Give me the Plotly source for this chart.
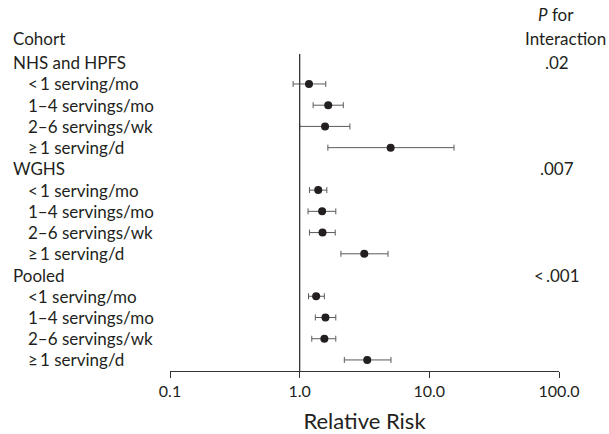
import plotly.graph_objects as go

# ---- data ----
row_labels = ["Cohort", "NHS and HPFS", "<\u20091 serving/mo", "1\u20134 servings/mo", "2\u20136 servings/wk", "\u2265\u20091 serving/d",
              "WGHS", "<\u20091 serving/mo", "1\u20134 servings/mo", "2\u20136 servings/wk", "\u2265\u20091 serving/d",
              "Pooled", "<1 serving/mo", "1\u20134 servings/mo", "2\u20136 servings/wk", "\u2265\u20091 serving/d"]
row_is_header = [True, True, False, False, False, False, True, False, False, False, False, True, False, False, False, False]

rr_rows = [2, 3, 4, 5, 7, 8, 9, 10, 12, 13, 14, 15]
rr = [1.18, 1.66, 1.57, 5.03, 1.39, 1.49, 1.50, 3.15, 1.34, 1.58, 1.55, 3.32]
ci_low = [0.89, 1.27, 1.00, 1.65, 1.19, 1.16, 1.19, 2.08, 1.17, 1.32, 1.24, 2.21]
ci_high = [1.59, 2.17, 2.44, 15.5, 1.62, 1.90, 1.88, 4.80, 1.55, 1.90, 1.90, 5.06]

p_rows = [1, 6, 11]
p_values = [".02", ".007", "<\u2009.001"]

tick_vals = [0.1, 1, 10, 100]
tick_text = ["0.1", "1.0", "10.0", "100.0"]

# ---- layout geometry ----
W, H = 609, 434
L, R, T, B = 170, 50, 0, 63
plot_w = W - L - R
row0_px = 41.5
row_step = 21.23
y_bottom = (H - B - row0_px) / row_step
y_top = (0 - row0_px) / row_step

def px_to_paper_x(px):
    return (px - L) / plot_w

FONT = "Lato, 'Open Sans', sans-serif"
TXT = "#231f20"
FS = 17

fig = go.Figure()
fig.add_trace(go.Scatter(
    x=rr, y=rr_rows, mode="markers",
    marker=dict(size=8, color=TXT),
    error_x=dict(type="data", symmetric=False,
                 array=[h - p for h, p in zip(ci_high, rr)],
                 arrayminus=[p - l for l, p in zip(ci_low, rr)],
                 color="#5a5a5a", thickness=1, width=3),
    showlegend=False, hoverinfo="skip"))

# reference line at RR = 1
fig.add_shape(type="line", xref="x", yref="y", x0=1, x1=1, y0=0.59, y1=y_bottom,
              line=dict(color="#333333", width=1.3))

ann = []
for i, (lab, hdr) in enumerate(zip(row_labels, row_is_header)):
    ann.append(dict(x=px_to_paper_x(11 if hdr else 26), y=i - (0.12 if i == 0 else 0), xref="paper", yref="y",
                    text=lab, showarrow=False, xanchor="left", yanchor="middle",
                    font=dict(family=FONT, size=FS, color=TXT)))
for r, pv in zip(p_rows, p_values):
    ann.append(dict(x=px_to_paper_x(557), y=r, xref="paper", yref="y", text=pv, showarrow=False,
                    xanchor="center", yanchor="middle", font=dict(family=FONT, size=FS, color=TXT)))
ann.append(dict(x=px_to_paper_x(556), y=-1.25, xref="paper", yref="y", text="<i>P</i> for", showarrow=False,
                xanchor="center", yanchor="middle", font=dict(family=FONT, size=FS, color=TXT)))
ann.append(dict(x=px_to_paper_x(565), y=-0.12, xref="paper", yref="y", text="Interaction", showarrow=False,
                xanchor="center", yanchor="middle", font=dict(family=FONT, size=FS, color=TXT)))

fig.update_layout(
    width=W, height=H, margin=dict(l=L, r=R, t=T, b=B),
    paper_bgcolor="white", plot_bgcolor="white",
    annotations=ann,
    xaxis=dict(type="log", range=[-1, 2], tickvals=tick_vals, ticktext=tick_text,
               showgrid=False, zeroline=False, showline=True, linecolor="#333333", linewidth=1.3,
               ticks="outside", ticklen=6, tickcolor="#333333", tickwidth=1.3,
               tickfont=dict(family=FONT, size=16, color=TXT),
               title=dict(text="Relative Risk", font=dict(family=FONT, size=22, color=TXT), standoff=16)),
    yaxis=dict(range=[y_bottom, y_top], visible=False, showgrid=False, zeroline=False),
)

fig.write_html("out.html", config={"displayModeBar": False},
               post_script="document.body.style.margin='0';document.body.style.overflow='hidden';")
